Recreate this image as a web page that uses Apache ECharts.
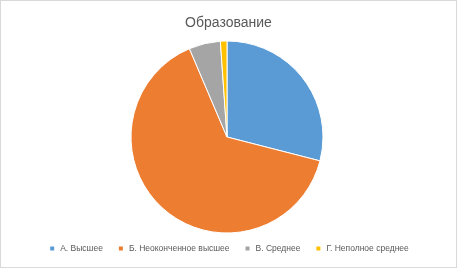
<!DOCTYPE html>
<html><head><meta charset="utf-8">
<script src="https://cdn.jsdelivr.net/npm/echarts@6/dist/echarts.min.js"></script>
<style>html,body{margin:0;padding:0;background:#fff}#c{width:457px;height:268px;box-sizing:border-box;border:1px solid #d9d9d9}</style>
</head><body><div id="c"></div>
<script>
const categories = ["А. Высшее", "Б. Неоконченное высшее", "В. Среднее", "Г. Неполное среднее"];
const values = [29.0, 64.6, 5.3, 1.1];
const colors = ["#5b9bd5", "#ed7d31", "#a5a5a5", "#ffc000"];
const titleText = "Образование";

const chart = echarts.init(document.getElementById('c'), null, {renderer: 'canvas'});
chart.setOption({
  animation: false,
  title: {text: titleText, left: 'center', top: 10, textStyle: {fontFamily: 'Liberation Sans', fontSize: 14, fontWeight: 'normal', color: '#595959'}},
  legend: {bottom: 9, left: 'center', itemWidth: 6, itemHeight: 6, itemGap: 14, icon: 'rect',
    textStyle: {fontFamily: 'Liberation Sans', fontSize: 8.5, color: '#595959'},
    data: categories},
  series: [{type: 'pie', center: [226, 136], radius: [0, 96], startAngle: 90, clockwise: true,
    label: {show: false}, labelLine: {show: false},
    itemStyle: {borderColor: '#fff', borderWidth: 1},
    data: categories.map((c, i) => ({name: c, value: values[i], itemStyle: {color: colors[i]}}))}]
});
</script></body></html>
